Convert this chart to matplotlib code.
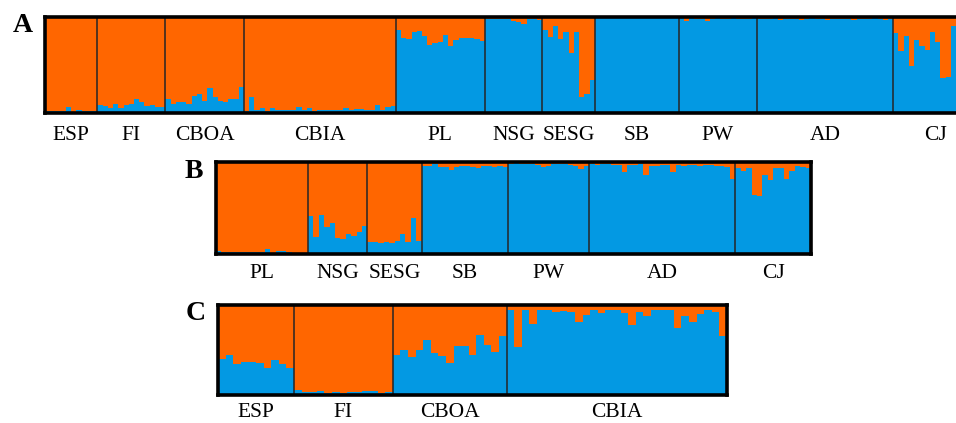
import numpy as np
import matplotlib
matplotlib.use('Agg')
import matplotlib.pyplot as plt

plt.rcParams['font.family'] = 'serif'
plt.rcParams['font.serif'] = ['Liberation Serif', 'Times New Roman', 'DejaVu Serif']

orange = '#FF6600'
blue = '#0399E3'

# share of the blue cluster for every individual, one list per population
a_groups = ['ESP', 'FI', 'CBOA', 'CBIA', 'PL', 'NSG', 'SESG', 'SB', 'PW', 'AD', 'CJ']
a_blue = [
    [0.02, 0.02, 0.02, 0.02, 0.06, 0.01, 0.03, 0.02, 0.02, 0.02],
    [0.08, 0.075, 0.05, 0.09, 0.05, 0.08, 0.09, 0.15, 0.11, 0.07, 0.08, 0.06, 0.06],
    [0.15, 0.09, 0.11, 0.11, 0.09, 0.18, 0.20, 0.125, 0.26, 0.17, 0.13, 0.11, 0.15, 0.15, 0.27],
    [0.025, 0.17, 0.03, 0.05, 0.025, 0.05, 0.035, 0.03, 0.035, 0.035, 0.06, 0.03, 0.05, 0.025,
     0.03, 0.03, 0.03, 0.03, 0.03, 0.055, 0.035, 0.04, 0.04, 0.035, 0.03, 0.085, 0.03, 0.065, 0.07],
    [0.86, 0.78, 0.77, 0.84, 0.85, 0.80, 0.71, 0.73, 0.74, 0.815, 0.70, 0.76, 0.78, 0.78, 0.78, 0.77, 0.755],
    [0.98, 0.975, 0.975, 0.975, 0.975, 0.955, 0.95, 0.93, 0.98, 0.975, 0.97],
    [0.86, 0.79, 0.91, 0.77, 0.84, 0.62, 0.84, 0.17, 0.20, 0.34],
    [0.99, 0.985, 0.99, 0.99, 0.985, 0.99, 0.99, 0.985, 0.99, 0.99, 0.99, 0.985, 0.99, 0.99, 0.985, 0.99],
    [0.985, 0.96, 0.985, 0.98, 0.975, 0.955, 0.98, 0.985, 0.975, 0.98, 0.985, 0.98, 0.975, 0.98, 0.985],
    [0.98, 0.975, 0.98, 0.985, 0.97, 0.98, 0.975, 0.98, 0.97, 0.98, 0.985, 0.98, 0.975,
     0.97, 0.98, 0.98, 0.975, 0.98, 0.97, 0.98, 0.975, 0.98, 0.985, 0.975, 0.97, 0.98],
    [0.83, 0.65, 0.80, 0.49, 0.76, 0.70, 0.66, 0.84, 0.74, 0.36, 0.37, 0.91, 0.88, 0.90, 0.86, 0.92],
]

b_groups = ['PL', 'NSG', 'SESG', 'SB', 'PW', 'AD', 'CJ']
b_blue = [
    [0.03, 0.025, 0.02, 0.025, 0.025, 0.025, 0.02, 0.02, 0.02, 0.055, 0.015, 0.035, 0.03, 0.02, 0.015, 0.015, 0.015],
    [0.41, 0.18, 0.425, 0.29, 0.335, 0.17, 0.16, 0.22, 0.195, 0.235, 0.305],
    [0.135, 0.125, 0.115, 0.125, 0.115, 0.145, 0.215, 0.125, 0.395, 0.145],
    [0.96, 0.955, 0.975, 0.95, 0.945, 0.915, 0.945, 0.955, 0.955, 0.95, 0.93, 0.955, 0.955, 0.945, 0.955, 0.95],
    [0.98, 0.985, 0.98, 0.975, 0.975, 0.965, 0.945, 0.96, 0.975, 0.975, 0.975, 0.965, 0.96, 0.92, 0.96],
    [0.975, 0.97, 0.975, 0.975, 0.97, 0.965, 0.89, 0.965, 0.97, 0.975, 0.855, 0.955, 0.96, 0.97, 0.965,
     0.89, 0.965, 0.96, 0.97, 0.965, 0.955, 0.97, 0.965, 0.96, 0.955, 0.95, 0.81],
    [0.94, 0.90, 0.94, 0.64, 0.63, 0.855, 0.80, 0.93, 0.93, 0.81, 0.90, 0.955, 0.945, 0.935],
]

c_groups = ['ESP', 'FI', 'CBOA', 'CBIA']
c_blue = [
    [0.40, 0.44, 0.35, 0.37, 0.365, 0.36, 0.30, 0.39, 0.34, 0.30],
    [0.06, 0.035, 0.035, 0.05, 0.025, 0.03, 0.025, 0.035, 0.03, 0.045, 0.05, 0.025, 0.035],
    [0.445, 0.50, 0.42, 0.50, 0.61, 0.47, 0.435, 0.36, 0.54, 0.54, 0.44, 0.67, 0.555, 0.475, 0.66],
    [0.94, 0.535, 0.94, 0.79, 0.95, 0.94, 0.92, 0.93, 0.92, 0.81, 0.89, 0.94, 0.915, 0.95,
     0.94, 0.915, 0.78, 0.92, 0.875, 0.94, 0.94, 0.94, 0.74, 0.88, 0.81, 0.90, 0.94, 0.92, 0.66],
]


def draw_panel(ax, groups, blue_vals, pad):
    vals = np.concatenate([np.array(v) for v in blue_vals])
    x = np.arange(len(vals))
    ax.bar(x, vals, width=1.0, align='edge', color=blue, linewidth=0)
    ax.bar(x, 1 - vals, bottom=vals, width=1.0, align='edge', color=orange, linewidth=0)
    sizes = [len(v) for v in blue_vals]
    edges = np.cumsum([0] + sizes)
    for e in edges[1:-1]:
        ax.axvline(e, color='#262626', lw=1.1)
    centers = (edges[:-1] + edges[1:]) / 2
    ax.set_xticks(centers)
    ax.set_xticklabels(groups, fontsize=15.5)
    ax.tick_params(axis='x', length=0, pad=pad)
    ax.set_yticks([])
    ax.set_xlim(0, len(vals))
    ax.set_ylim(0, 1)
    for s in ax.spines.values():
        s.set_linewidth(2.6)
        s.set_color('black')


W, H = 956, 423
fig = plt.figure(figsize=(W / 100, H / 100), dpi=100)


def rect(left, right, top, bottom):
    return [left / W, 1 - bottom / H, (right - left) / W, (bottom - top) / H]


ax_a = fig.add_axes(rect(45, 977, 17, 113))
draw_panel(ax_a, a_groups, a_blue, 9)
ax_b = fig.add_axes(rect(216, 811, 162, 254))
draw_panel(ax_b, b_groups, b_blue, 7)
ax_c = fig.add_axes(rect(218, 727, 305, 395))
draw_panel(ax_c, c_groups, c_blue, 6)

for letter, px, py in [('A', 23, 25), ('B', 194, 172), ('C', 196, 314)]:
    fig.text(px / W, 1 - py / H, letter, fontsize=20, fontweight='bold', ha='center', va='center')

fig.savefig('out.png', dpi=100)
